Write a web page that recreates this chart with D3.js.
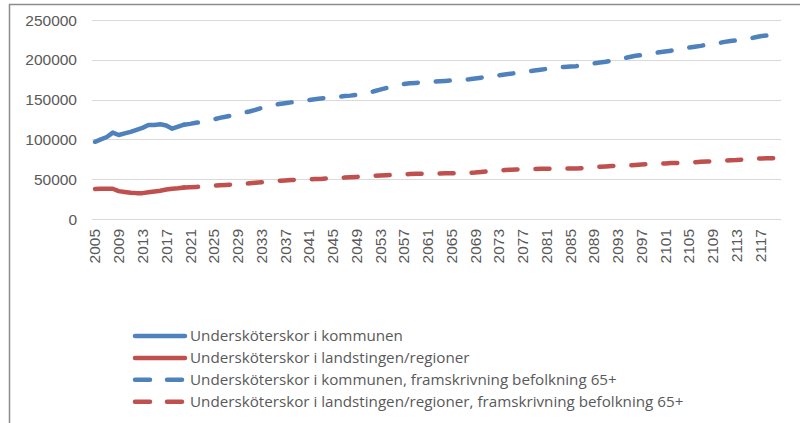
<!DOCTYPE html>
<meta charset="utf-8">
<style>
    body {
        margin: 0;
        background: #fff;
        font-family: "Liberation Sans", Arial, sans-serif;
    }

    .tick-label {
        fill: #595959;
    }

    .legend-label {
        fill: #595959;
        font-family: "Open Sans", sans-serif;
    }
</style>

<body>
    <svg width="800" height="423"></svg>

    <script src="https://d3js.org/d3.v7.min.js"></script>
    <script>
        // årtal på x-axeln
        const years = d3.range(2005, 2121);

        // faktiska värden 2005-2020
        const kommunActual = [97000, 100000, 103000, 108500, 105500, 107500, 109500, 112000,
            114500, 118000, 118000, 119000, 117500, 113500, 116000, 118500];
        const landstingActual = [37700, 38000, 38000, 38000, 35000, 34000, 33000, 32500,
            32500, 33500, 34500, 35500, 37000, 38000, 38500, 39500];

        // framskrivning 2020-2120
        const kommunProj = [
            118500, 119500, 121000, 122000, 123500, 125000, 127000, 128500, 130000, 131500,
            133500, 135000, 137000, 139500, 141500, 143000, 144500, 145500, 146500, 147500,
            148500, 149500, 150500, 151500, 152000, 152500, 153500, 154500, 155000, 156000,
            157000, 158500, 160500, 162500, 164500, 166500, 168000, 169500, 170500, 171000,
            171500, 172000, 172500, 173000, 173500, 174000, 174500, 175000, 175500, 176500,
            177500, 178500, 179500, 180500, 181500, 182500, 183500, 184500, 185500, 186500,
            187500, 188500, 189500, 190500, 191000, 191500, 192000, 193000, 194000, 195500,
            196500, 197500, 199000, 200500, 202000, 203500, 205000, 206000, 207000, 208000,
            209500, 210500, 211500, 212500, 214000, 215500, 216500, 217500, 219000, 220000,
            221000, 222500, 223500, 224500, 225500, 226500, 228000, 229500, 230500, 231500,
            232500];
        const landstingProj = [
            39500, 40000, 40300, 40700, 41300, 41900, 42300, 42700, 43200, 43600,
            44200, 44800, 45500, 46200, 46900, 47500, 48100, 48500, 48900, 49200,
            49500, 49800, 50100, 50400, 50800, 51200, 51600, 52000, 52500, 52900,
            53400, 53900, 54400, 54700, 55000, 55300, 55700, 56100, 56500, 56700,
            56800, 57000, 57100, 57300, 57400, 57500, 57500, 57600, 57900, 58300,
            59000, 59700, 60300, 60900, 61500, 61900, 62200, 62500, 62800, 62900,
            63000, 63100, 63200, 63200, 63300, 63300, 63400, 63900, 64500, 65000,
            65600, 66100, 66500, 66700, 66900, 67200, 67800, 68500, 68800, 69000,
            69200, 69800, 70300, 70500, 70600, 70800, 71300, 71800, 72200, 72600,
            73000, 73400, 73700, 74000, 74600, 75200, 75700, 76000, 76200, 76400,
            76600];

        const yTicks = [0, 50000, 100000, 150000, 200000, 250000];

        const seriesNames = [
            "Undersköterskor i kommunen",
            "Undersköterskor i landstingen/regioner",
            "Undersköterskor i kommunen, framskrivning befolkning 65+",
            "Undersköterskor i landstingen/regioner, framskrivning befolkning 65+"
        ];

        const blue = "#4f81bd";
        const red = "#c0504d";
        const dash = "14,18";

        const series = [
            { name: seriesNames[0], values: kommunActual, start: 2005, color: blue, dashed: false },
            { name: seriesNames[1], values: landstingActual, start: 2005, color: red, dashed: false },
            { name: seriesNames[2], values: kommunProj, start: 2020, color: blue, dashed: true },
            { name: seriesNames[3], values: landstingProj, start: 2020, color: red, dashed: true }
        ];

        const svg = d3.select("svg");
        const plot = { left: 92, right: 781, top: 20, bottom: 219 };

        // ram runt diagrammet
        svg.append("rect")
            .attr("x", 9.5).attr("y", 4.5)
            .attr("width", 820).attr("height", 440)
            .attr("fill", "#fff")
            .attr("stroke", "#8c8c8c")
            .attr("stroke-width", 1.5);

        const x = d3.scaleBand()
            .domain(years)
            .range([plot.left, plot.right]);

        const y = d3.scaleLinear()
            .domain([0, 250000])
            .range([plot.bottom, plot.top]);

        // rutnät
        svg.append("g")
            .selectAll("line")
            .data(yTicks)
            .join("line")
            .attr("x1", plot.left)
            .attr("x2", plot.right)
            .attr("y1", d => Math.round(y(d)) + 0.5)
            .attr("y2", d => Math.round(y(d)) + 0.5)
            .attr("stroke", "#d9d9d9")
            .attr("stroke-width", 1);

        svg.append("g")
            .selectAll("text")
            .data(yTicks)
            .join("text")
            .attr("class", "tick-label")
            .attr("x", 77)
            .attr("y", d => y(d))
            .attr("dy", "0.36em")
            .attr("text-anchor", "end")
            .style("font-size", "15.5px")
            .text(d => d);

        const xLabels = years.filter(d => (d - 2005) % 4 === 0);
        svg.append("g")
            .selectAll("text")
            .data(xLabels)
            .join("text")
            .attr("class", "tick-label")
            .attr("transform", d => `translate(${x(d) + x.bandwidth() / 2 + 5.5},229) rotate(-90)`)
            .attr("text-anchor", "end")
            .style("font-size", "15.5px")
            .text(d => d);

        const line = d3.line()
            .x(d => x(d.year) + x.bandwidth() / 2)
            .y(d => y(d.value));

        svg.append("g")
            .selectAll("path")
            .data(series)
            .join("path")
            .attr("d", s => line(s.values.map((v, i) => ({ year: s.start + i, value: v }))))
            .attr("fill", "none")
            .attr("stroke", s => s.color)
            .attr("stroke-width", 4.5)
            .attr("stroke-linecap", "round")
            .attr("stroke-linejoin", "round")
            .attr("stroke-dasharray", s => s.dashed ? dash : null);

        // förklaring
        const legend = svg.append("g")
            .selectAll("g")
            .data(series)
            .join("g")
            .attr("transform", (d, i) => `translate(0,${336 + i * 21.9})`);

        legend.append("line")
            .attr("x1", 135).attr("x2", 185)
            .attr("stroke", d => d.color)
            .attr("stroke-width", 4.5)
            .attr("stroke-linecap", "round")
            .attr("stroke-dasharray", d => d.dashed ? "15,17" : null);

        legend.append("text")
            .attr("class", "legend-label")
            .attr("x", 190)
            .attr("dy", "0.36em")
            .style("font-size", "15.2px")
            .text(d => d.name);
    </script>
</body>
